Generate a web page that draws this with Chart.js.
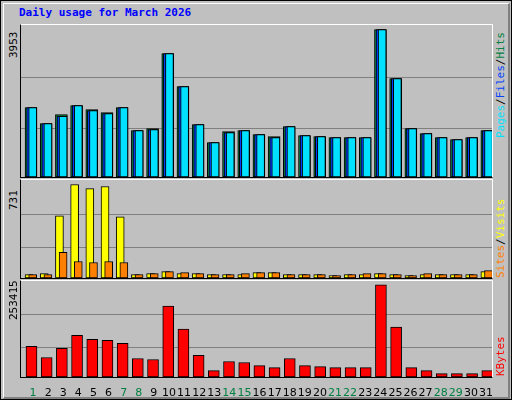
<!DOCTYPE html>
<html><head><meta charset="utf-8">
<script src="https://cdn.jsdelivr.net/npm/chart.js@4"></script>
<style>
body{margin:0;background:#c0c0c0;}
#frame{position:absolute;left:0;top:0;width:510px;height:398px;background:#c0c0c0;border:1px solid #000;}
#inner{position:absolute;left:2px;top:2px;width:504px;height:393px;border-top:1px solid #fff;border-left:1px solid #fff;border-right:2px solid #808080;border-bottom:2px solid #808080;}
.title{position:absolute;left:19px;top:6px;font:bold 11px "DejaVu Sans Mono",monospace;color:#0000ff;white-space:nowrap;}
.panel{position:absolute;left:20px;width:471px;border-left:1px solid #000;border-top:1px solid #fff;border-right:1px solid #fff;border-bottom:1px solid #000;}
.rot{position:absolute;transform:rotate(-90deg);transform-origin:0 0;white-space:nowrap;font:11px "DejaVu Sans Mono",monospace;}
canvas{display:block;}
</style></head><body>
<div id="frame"><div id="inner"></div></div>
<div class="title">Daily usage for March 2026</div>
<div class="panel" style="top:24px;height:152px"><canvas id="c1"></canvas></div>
<div class="panel" style="top:179px;height:98px"><canvas id="c2"></canvas></div>
<div class="panel" style="top:280px;height:96px"><canvas id="c3"></canvas></div>
<div style="position:absolute;left:20px;top:280px;width:473px;height:120px"><canvas id="c4"></canvas></div>
<div class="rot" style="left:7px;top:58px">3953</div>
<div class="rot" style="left:7px;top:210px">731</div>
<div class="rot" style="left:7px;top:320px">253415</div>
<div class="rot" style="left:494px;top:138px"><span style="color:#00e0ff">Pages</span>/<span style="color:#0040ff">Files</span>/<span style="color:#008040">Hits</span></div>
<div class="rot" style="left:494px;top:278px"><span style="color:#ff8000">Sites</span>/<span style="color:#ffff00">Visits</span></div>
<div class="rot" style="left:494px;top:376px"><span style="color:#ff0000">KBytes</span></div>
<script>
const days = [1,2,3,4,5,6,7,8,9,10,11,12,13,14,15,16,17,18,19,20,21,22,23,24,25,26,27,28,29,30,31];
const weekendDays = [1,7,8,14,15,21,22,28,29];
const hits  = [1860,1431,1672,1914,1807,1726,1860,1243,1297,3309,2424,1404,921,1216,1243,1136,1082,1350,1109,1082,1055,1055,1055,3953,2638,1297,1163,1055,1002,1055,1243];
const files = [1860,1431,1630,1914,1780,1700,1860,1243,1270,3309,2424,1404,921,1190,1243,1136,1055,1350,1109,1082,1055,1055,1055,3953,2638,1297,1163,1055,1002,1055,1243];
const pages = [1860,1431,1630,1914,1780,1700,1860,1243,1270,3309,2424,1404,921,1190,1243,1136,1055,1350,1109,1082,1055,1055,1055,3953,2638,1297,1163,1055,1002,1055,1243];
const visits = [26,34,486,731,699,715,478,26,34,50,34,34,26,26,26,42,42,26,26,26,18,26,26,34,26,18,26,26,26,26,50];
const sites  = [26,26,201,129,121,129,121,26,34,50,42,34,26,26,34,42,42,26,26,26,18,26,34,34,26,18,34,26,26,26,58];
const kbytes = [84165,53645,78614,114685,103587,100812,92488,50868,48094,195148,131333,59192,17573,42544,39770,31446,25897,50868,31446,28671,25897,25897,25897,253415,136882,25897,17573,9249,9249,9249,17573];

const pts = arr => arr.map((v,i)=>({x:days[i],y:v}));
function xAxis(shift){return {type:'linear',display:false,offset:false,min:0.5-shift,max:31.5-shift,bounds:'ticks'};}
const gridPlugin = {id:'grid',beforeDatasetsDraw(c){
  const ctx=c.ctx, ys=c.scales.y, ca=c.chartArea;
  ctx.save();ctx.strokeStyle='#808080';ctx.lineWidth=1;
  (c.options.plugins.grid.lines||[]).forEach(v=>{const y=Math.round(ys.getPixelForValue(v))+0.5;ctx.beginPath();ctx.moveTo(ca.left,y);ctx.lineTo(ca.right,y);ctx.stroke();});
  ctx.restore();}};
function make(id,datasets,ymax,lines,axes){
  const scales={y:{display:false,min:0,max:ymax}};
  Object.assign(scales,axes);
  new Chart(document.getElementById(id),{type:'bar',data:{datasets},
    options:{responsive:true,maintainAspectRatio:false,animation:false,layout:{padding:0},
      plugins:{legend:{display:false},tooltip:{enabled:false},grid:{lines}},scales},
    plugins:[gridPlugin]});
}
const bar = (data,color,axis,w,order)=>({data:pts(data),backgroundColor:color,borderColor:'#000',borderWidth:1,xAxisID:axis,barThickness:w,grouped:false,borderSkipped:false,order});
make('c1',[bar(hits,'#008040','xh',12,3),bar(files,'#0040ff','xf',10,2),bar(pages,'#00e0ff','xp',8,1)],4076,[1324,2683],
  {xh:xAxis(0.16),xf:xAxis(0.2),xp:xAxis(0.27)});
make('c2',[bar(visits,'#ffff00','xv',8,2),bar(sites,'#ff8000','xs',8,1)],766,[240,501],
  {xv:xAxis(0.03),xs:xAxis(0.27)});
make('c3',[bar(kbytes,'#ff0000','xk',11,1)],263700,[81390,172960],{xk:xAxis(0.19)});
// day labels via linear scale
new Chart(document.getElementById('c4'),{type:'bar',data:{datasets:[]},
  options:{responsive:true,maintainAspectRatio:false,animation:false,events:[],
    layout:{padding:{left:1,right:2,top:0,bottom:0}},
    plugins:{legend:{display:false},tooltip:{enabled:false}},
    scales:{x:{type:'linear',offset:false,min:0.5-0.3,max:31.5-0.3,position:'bottom',
      afterBuildTicks:s=>{s.ticks=days.map(d=>({value:d}));},
      ticks:{autoSkip:false,maxRotation:0,padding:0,font:{family:'DejaVu Sans',size:11},
        color:ctx=>weekendDays.includes(ctx.tick.value)?'#008040':'#000'},
      grid:{display:false},border:{display:false}},
      y:{display:false,min:0,max:1}}}});
</script>
</body></html>
